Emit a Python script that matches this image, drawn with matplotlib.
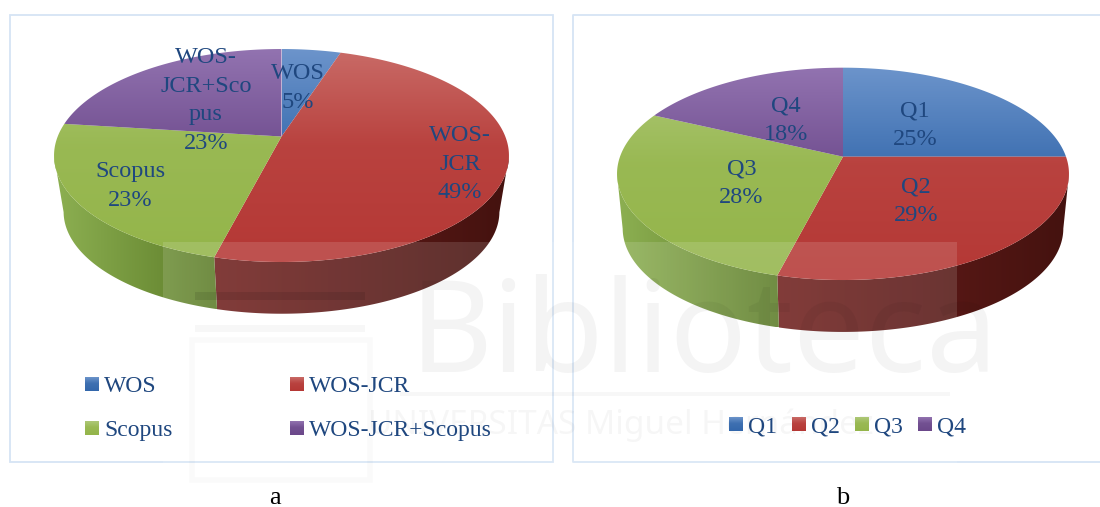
import numpy as np
import matplotlib
matplotlib.use("Agg")
import matplotlib.pyplot as plt
from matplotlib.patches import Polygon, Rectangle
from matplotlib.colors import LinearSegmentedColormap, to_rgb

# ---- data ----
cats_a = ["WOS", "WOS-JCR", "Scopus", "WOS-JCR+Scopus"]
vals_a = [5, 49, 23, 23]
cats_b = ["Q1", "Q2", "Q3", "Q4"]
vals_b = [25, 29, 28, 18]
labels_a = ["WOS\n5%", "WOS-\nJCR\n49%", "Scopus\n23%", "WOS-\nJCR+Sco\npus\n23%"]
labels_b = ["Q1\n25%", "Q2\n29%", "Q3\n28%", "Q4\n18%"]
panel_names = ["a", "b"]

# ---- style ----
top_cols = [("#6C94CB", "#3367AB"), ("#C96B67", "#B53835"),
            ("#AEC878", "#94B54A"), ("#9273B0", "#6B488A")]
side_cols = [("#2F5588", "#274A78"), ("#701F1D", "#44120F"),
             ("#8DB052", "#5C7C28"), ("#5A3F75", "#4A3262")]
TXT = "#1F477F"
FRAME = "#D6E4F4"
SERIF = ["Liberation Serif", "DejaVu Serif"]
LBL = 17.5
LEG = 17

W, H = 1100, 507
fig = plt.figure(figsize=(W / 100, H / 100), dpi=100, facecolor="white")
ax = fig.add_axes([0, 0, 1, 1])
ax.set_xlim(0, W)
ax.set_ylim(H, 0)
ax.axis("off")


def project(theta, g, shrink=1.0, dy=0.0):
    """Perspective map of the unit circle; theta clockwise from 12 o'clock."""
    u, v = np.sin(theta), np.cos(theta)
    d = 1 + g["p"] * v
    x = g["cx"] + shrink * g["A"] * u / d
    y = g["ay"] + dy - shrink * g["B"] * v / d
    return x, y


def gradient_fill(xy, stops, lo, hi, z, horizontal=False):
    """Linear gradient clipped to a polygon."""
    poly = Polygon(xy, closed=True, transform=ax.transData, fc="none", ec="none")
    ax.add_patch(poly)
    cmap = LinearSegmentedColormap.from_list("g", stops)
    ramp = np.linspace(0, 1, 256)
    x0, x1 = xy[:, 0].min(), xy[:, 0].max()
    y0, y1 = xy[:, 1].min(), xy[:, 1].max()
    if horizontal:
        data, ext = ramp[None, :], (lo, hi, y1, y0)
    else:
        data, ext = ramp[:, None], (x0, x1, hi, lo)
    im = ax.imshow(data, cmap=cmap, aspect="auto", extent=ext, zorder=z,
                   interpolation="bilinear", vmin=0, vmax=1)
    im.set_clip_path(poly)
    ax.set_xlim(0, W)
    ax.set_ylim(H, 0)


def top_stops(c):
    a, b = np.array(to_rgb(c[0])), np.array(to_rgb(c[1]))
    return [(0.0, tuple(a)), (0.45, tuple(a + 0.8 * (b - a))), (1.0, tuple(b))]


def pie3d(vals, g):
    edges = np.cumsum([0] + list(vals)) / sum(vals) * 2 * np.pi
    for i in range(len(vals)):
        th = np.linspace(edges[i], edges[i + 1], 300)
        th = th[np.cos(th) < -g["p"]]
        if len(th) < 2:
            continue
        xt, yt = project(th, g)
        xb, yb = project(th, g, g["s"], g["dy"])
        xy = np.vstack([np.column_stack([xt, yt]), np.column_stack([xb, yb])[::-1]])
        gradient_fill(xy, list(side_cols[i]), xy[:, 0].min(), xy[:, 0].max(), 2, horizontal=True)
    top_y = g["ay"] - g["B"] / (1 + g["p"])
    bot_y = g["ay"] + g["B"] / (1 - g["p"])
    for i in range(len(vals)):
        th = np.linspace(edges[i], edges[i + 1], 300)
        x, y = project(th, g)
        xy = np.vstack([[g["cx"], g["ay"]], np.column_stack([x, y])])
        gradient_fill(xy, top_stops(top_cols[i]), top_y, bot_y, 3)


geo_a = dict(cx=281.5, ay=136.5, A=223.8, B=103.1, p=0.1785, s=0.958, dy=57.0)
geo_b = dict(cx=843.0, ay=156.7, A=223.0, B=103.4, p=0.1615, s=0.975, dy=55.0)

pie3d(vals_a, geo_a)
pie3d(vals_b, geo_b)

# frames
ax.add_patch(Rectangle((10, 15), 543, 446.5, fc="none", ec=FRAME, lw=1.3, zorder=1))
ax.plot([1100, 572.5, 572.5, 1100], [15, 15, 461.5, 461.5], color=FRAME, lw=1.3, zorder=1)

# watermark
ax.add_patch(Rectangle((163, 242), 794, 235, fc="white", ec="none", alpha=0.13, zorder=4))
ax.text(410, 372, "Biblioteca", family="Noto Sans", fontsize=92, color="black", alpha=0.045,
        ha="left", va="baseline", zorder=5)
ax.text(368, 434, "UNIVERSITAS Miguel Hernández", family="Noto Sans", fontsize=24,
        color="black", alpha=0.035, ha="left", va="baseline", zorder=5)
ax.add_patch(Rectangle((400, 392), 550, 4, fc="black", ec="none", alpha=0.03, zorder=5))
ax.add_patch(Rectangle((195, 292), 170, 8, fc="black", ec="none", alpha=0.09, zorder=5))
ax.add_patch(Rectangle((195, 325), 170, 7, fc="black", ec="none", alpha=0.03, zorder=5))
ax.add_patch(Rectangle((192, 340), 178, 140, fc="none", ec="black", lw=4, alpha=0.02, zorder=5))

# data labels
pos_a = [(298, 88), (460, 164), (130, 186), (206, 100.5)]
pos_b = [(915, 125), (916, 201), (741.5, 183), (786, 120)]
for labels, pos in ((labels_a, pos_a), (labels_b, pos_b)):
    for s, (x, y) in zip(labels, pos):
        ax.text(x, y, s, family=SERIF, fontsize=LBL, color=TXT, ha="center", va="center",
                linespacing=1.47, zorder=6)


# legends
def legend_item(x, y, name, col, text_dx):
    sq = np.array([[x, y - 7], [x + 14, y - 7], [x + 14, y + 7], [x, y + 7]], dtype=float)
    gradient_fill(sq, top_stops(col), y - 7, y + 7, 6)
    ax.text(x + text_dx, y, name, family=SERIF, fontsize=LEG, color=TXT, ha="left",
            va="center_baseline", zorder=6)


leg_a = [(85, 384), (290, 384), (85, 428), (290, 428)]
leg_b = [(729, 424), (792, 424), (855, 424), (918, 424)]
for names, pos in ((cats_a, leg_a), (cats_b, leg_b)):
    for i, (name, (x, y)) in enumerate(zip(names, pos)):
        legend_item(x, y, name, top_cols[i], 19)

# panel letters
for name, x in zip(panel_names, (275, 843)):
    ax.text(x, 504, name, family=SERIF, fontsize=19, color="black", ha="center", va="baseline", zorder=6)

fig.savefig("out.png", dpi=100, facecolor="white")
